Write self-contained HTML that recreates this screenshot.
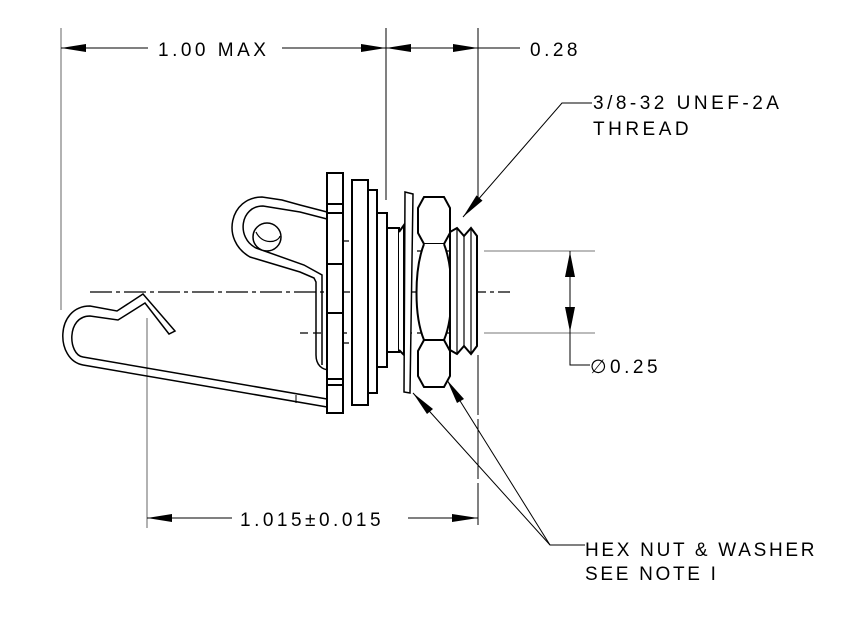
<!DOCTYPE html>
<html><head><style>html,body{margin:0;padding:0;background:#fff}svg{display:block}
text{font-family:"Liberation Sans",sans-serif;font-size:19px;fill:#000;letter-spacing:3.5px}</style></head>
<body>
<svg width="842" height="633" viewBox="0 0 842 633" xmlns="http://www.w3.org/2000/svg">
<g stroke="#000" fill="none" stroke-width="1">
<line x1="61" y1="28" x2="61" y2="310" stroke="#666"/>
<line x1="386" y1="28" x2="386" y2="200"/>
<line x1="478" y1="28" x2="478" y2="200"/>
<line x1="478" y1="355" x2="478" y2="525" stroke-dasharray="60,4"/>
<line x1="147" y1="318" x2="147" y2="528" stroke="#666"/>
<line x1="61" y1="48" x2="148" y2="48"/><line x1="282" y1="48" x2="386" y2="48"/>
<line x1="386" y1="48" x2="478" y2="48"/><line x1="478" y1="48" x2="520" y2="48"/>
<line x1="147" y1="518" x2="232" y2="518"/><line x1="408" y1="518" x2="478" y2="518"/>
<line x1="484" y1="251" x2="595" y2="251" stroke="#777"/>
<line x1="484" y1="333" x2="595" y2="333" stroke="#777"/>
<polyline points="570,251 570,365 590,365"/>
<polyline points="592,103 562,103 463,217"/>
<polyline points="585,545 550,545 413,393"/>
<line x1="550" y1="545" x2="447" y2="380"/>
<line x1="90" y1="292" x2="510" y2="292" stroke-dasharray="22,4,4,4" stroke-width="1.3"/>
<g stroke-dasharray="8,5" stroke-width="1.2">
<line x1="328" y1="241" x2="400" y2="241"/><line x1="378" y1="251" x2="480" y2="251"/>
<line x1="300" y1="333" x2="480" y2="333"/><line x1="328" y1="343" x2="400" y2="343"/>
</g>
</g>
<g fill="#000">
<polygon points="61,48 86,44 86,52"/><polygon points="386,48 361,44 361,52"/>
<polygon points="386,48 411,44 411,52"/><polygon points="478,48 453,44 453,52"/>
<polygon points="478,518 452,514 452,522"/><polygon points="147,518 172,514 172,522"/>
<polygon points="570,252 565,277 575,277"/><polygon points="570,332 565,307 575,307"/>
<polygon points="463,217 482.5,200.6 476.5,195.4"/>
<polygon points="413,393 427,414 433,409"/>
<polygon points="447,380 457,403 464,399"/>
</g>
<g stroke="#000" fill="#fff" stroke-width="2">
<path d="M327,212 L300,205 L282,200 L262,197 C230,197 220,240 250,257 L300,272 L314,278 L316,282 L316,355 C316,365 322,370 330,370" fill="none" stroke-width="1.5"/>
<path d="M327,219 L300,212 L263,206 C240,206 236,238 256,248 L304,265 L322,275 L322,365" fill="none" stroke-width="1.5"/>
<circle cx="267" cy="237" r="14" stroke-width="1.5"/>
<path d="M256,232 C262,245 278,243 280,236" fill="none" stroke-width="1.2"/>
<path d="M327,407 L83,365 C55,360 55,306 90,306 L117,311 L143,294 L175,331 L169,334 L145,303 L118,320 L90,316 C66,316 68,355 83,357 L327,399" fill="none" stroke-width="1.5"/>
<line x1="296" y1="395" x2="296" y2="403" stroke-width="1"/>
<rect x="327" y="173" width="16" height="240"/>
<line x1="327" y1="204" x2="343" y2="204"/><line x1="327" y1="213" x2="343" y2="213"/>
<line x1="327" y1="264" x2="343" y2="264"/><line x1="327" y1="313" x2="343" y2="313"/>
<line x1="327" y1="379" x2="343" y2="379"/><line x1="327" y1="385" x2="343" y2="385"/>
<rect x="352" y="180" width="16" height="225"/>
<rect x="368" y="190" width="9" height="203"/>
<rect x="377" y="213" width="10" height="154"/>
<rect x="387" y="228" width="12" height="124"/>
<path d="M399,232 L404,225 L404,355 L399,350"/>
<polygon points="405,192 413,194 410,393 404,392" stroke-width="1.5"/>
<path d="M418,208 L424,197 L444,197 L450,208 L450,233 L444,244 L424,244 L418,233 Z"/>
<path d="M424,244 C414,270 414,316 424,340 L444,340 C454,316 454,270 444,244"/>
<path d="M418,351 L424,340 L444,340 L450,351 L450,376 L444,387 L424,387 L418,376 Z"/>
<path d="M450,232 L457,228 L464,236 L471,228 L477,236 L477,346 L471,354 L464,346 L457,354 L450,350 Z"/>
<line x1="457" y1="228" x2="457" y2="354" stroke-width="1.2"/>
<line x1="464" y1="236" x2="464" y2="346" stroke-width="1.2"/>
<line x1="471" y1="228" x2="471" y2="354" stroke-width="1.2"/>
</g>
<text x="158" y="56">1.00 MAX</text>
<text x="530" y="56">0.28</text>
<text x="593" y="109" font-size="16">3/8-32 UNEF-2A</text>
<text x="593" y="135" font-size="16">THREAD</text>
<text x="590" y="373" font-size="20">∅0.25</text>
<text x="240" y="526">1.015±0.015</text>
<text x="585" y="556" font-size="18" style="letter-spacing:2.7px">HEX NUT &amp; WASHER</text>
<text x="585" y="580" font-size="18" style="letter-spacing:2.7px">SEE NOTE I</text>
</svg>
</body></html>
